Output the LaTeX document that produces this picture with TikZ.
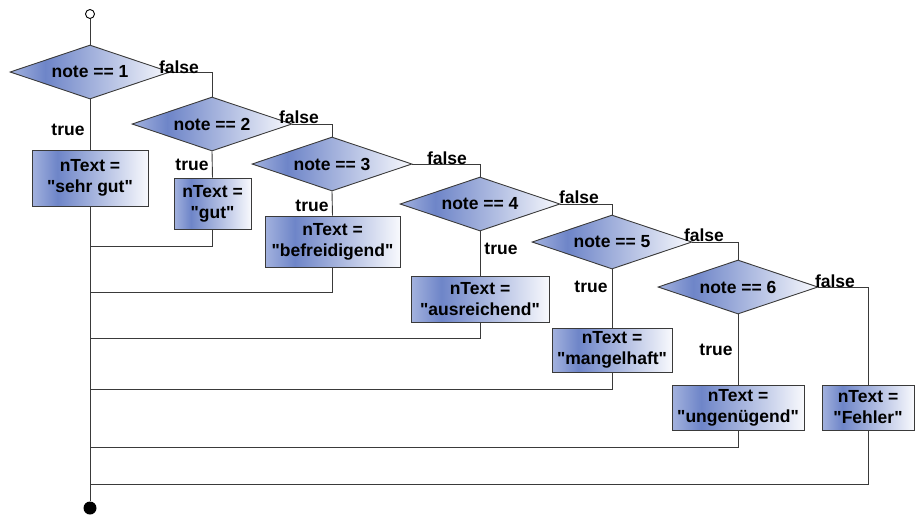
\documentclass[tikz,border=0pt]{standalone}
\usepackage{fontspec}
\setmainfont{Liberation Sans}[Ligatures=TeXOff]
\usetikzlibrary{shapes.geometric}
\definecolor{gA}{HTML}{A3B2DE}
\definecolor{gB}{HTML}{6E85C8}
\definecolor{gC}{HTML}{F8F9FD}
\definecolor{edge}{HTML}{3A3A3A}
\pgfdeclarehorizontalshading{blueg}{100bp}{color(0bp)=(gA); color(25bp)=(gA); color(36bp)=(gB); color(75bp)=(gC); color(100bp)=(gC)}
\tikzset{
  base/.style={font=\fontsize{17.5}{21}\selectfont\bfseries},
  dec/.style={base, diamond, draw=edge, line width=0.9pt, shading=blueg, minimum width=160pt, minimum height=54pt, aspect=2.96, inner sep=0pt},
  act/.style={base, rectangle, draw=edge, line width=0.9pt, shading=blueg, align=center, inner sep=0pt},
  lbl/.style={base, inner sep=0pt},
  conn/.style={draw=edge, line width=0.9pt},
}
\begin{document}
\begin{tikzpicture}[x=1pt,y=-1pt]
\useasboundingbox (0,0) rectangle (915,515);
% start / end
\node[circle, draw=black, line width=0.9pt, fill=white, minimum size=9pt, inner sep=0pt] (start) at (90,14) {};
\node[circle, fill=black, minimum size=13pt, inner sep=0pt] (end) at (90,508) {};
% decisions
\node[dec] (d1) at (90,72) {note == 1};
\node[dec] (d2) at (212,124) {note == 2};
\node[dec] (d3) at (332,164) {note == 3};
\node[dec] (d4) at (480,204) {note == 4};
\node[dec] (d5) at (612,242) {note == 5};
\node[dec] (d6) at (738,287) {note == 6};
% actions
\node[act, minimum width=116pt, minimum height=56pt] (b1) at (90,178) {nText =\\"sehr gut"};
\node[act, minimum width=77pt, minimum height=51pt] (b2) at (212.5,203.5) {nText =\\"gut"};
\node[act, minimum width=135pt, minimum height=51pt] (b3) at (332.5,241.5) {nText =\\"befreidigend"};
\node[act, minimum width=138pt, minimum height=46pt] (b4) at (480,299) {nText =\\"ausreichend"};
\node[act, minimum width=120pt, minimum height=44pt] (b5) at (612,350) {nText =\\"mangelhaft"};
\node[act, minimum width=132pt, minimum height=45pt] (b6) at (738,407.5) {nText =\\"ungenügend"};
\node[act, minimum width=92pt, minimum height=45pt] (b7) at (868,407.5) {nText =\\"Fehler"};
% merge points
\coordinate (m2) at (90,246);
\coordinate (m3) at (90,292);
\coordinate (m4) at (90,338);
\coordinate (m5) at (90,389);
\coordinate (m6) at (90,447);
\coordinate (m7) at (90,484);
% connectors
\draw[conn] (start) -- (d1.north);
\draw[conn] (d1.south) -- (b1.north);
\draw[conn] (b1.south) -- (end);
\draw[conn] (d1.east) -| (d2.north);
\draw[conn] (d2.east) -| (d3.north);
\draw[conn] (d3.east) -| (d4.north);
\draw[conn] (d4.east) -| (d5.north);
\draw[conn] (d5.east) -| (d6.north);
\draw[conn] (d6.east) -| (b7.north);
\draw[conn] (d2.south) -- (b2.north);
\draw[conn] (d3.south) -- (b3.north);
\draw[conn] (d4.south) -- (b4.north);
\draw[conn] (d5.south) -- (b5.north);
\draw[conn] (d6.south) -- (b6.north);
\draw[conn] (b2.south) |- (m2);
\draw[conn] (b3.south) |- (m3);
\draw[conn] (b4.south) |- (m4);
\draw[conn] (b5.south) |- (m5);
\draw[conn] (b6.south) |- (m6);
\draw[conn] (b7.south) |- (m7);
% labels
\node[lbl] (t1) at (68,130) {true};
\node[lbl] (t2) at (192,165) {true};
\node[lbl] (t3) at (312,206) {true};
\node[lbl] (t4) at (501,249) {true};
\node[lbl] (t5) at (591,287) {true};
\node[lbl] (t6) at (716,350) {true};
\node[lbl] (f1) at (179,67) {false};
\node[lbl] (f2) at (299,117) {false};
\node[lbl] (f3) at (447,158) {false};
\node[lbl] (f4) at (579,197) {false};
\node[lbl] (f5) at (704,235) {false};
\node[lbl] (f6) at (835,281) {false};
\end{tikzpicture}
\end{document}
